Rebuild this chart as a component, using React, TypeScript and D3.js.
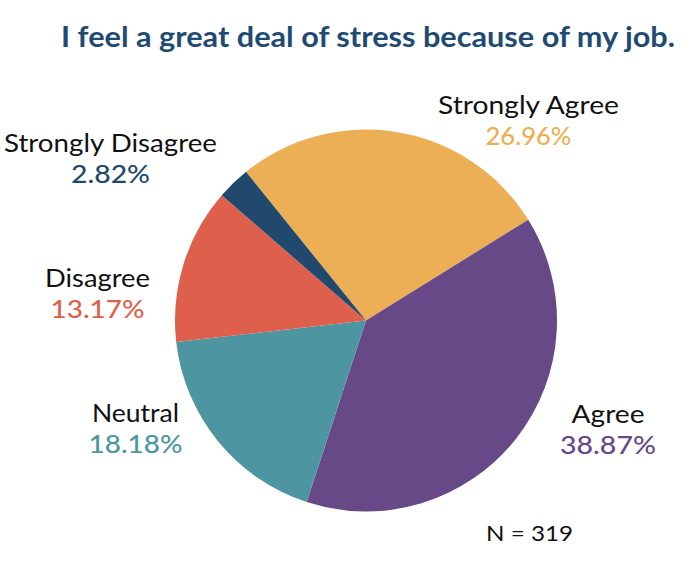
import React from "react";
import * as d3 from "d3";

const categories = ["Strongly Agree", "Agree", "Neutral", "Disagree", "Strongly Disagree"];
const percents = [26.96, 38.87, 18.18, 13.17, 2.82];
const colors = ["#EDAF55", "#664986", "#4D95A0", "#DE604C", "#21496E"];
const title = "I feel a great deal of stress because of my job.";
const nLabel = "N = 319";

// label layout (centre x, baseline y of name, widths)
const labelLayout = [
  { x: 528.5, y: 114, wName: 181, wPct: 86 },
  { x: 608, y: 423, wName: 73, wPct: 96 },
  { x: 135.5, y: 422, wName: 87, wPct: 94 },
  { x: 97.5, y: 287, wName: 105, wPct: 94 },
  { x: 110.5, y: 152, wName: 213, wPct: 79 },
];

const W = 690;
const H = 578;
const cx = 366;
const cy = 320.5;
const R = 191;
const startDeg = -38.9;

export default function App() {
  const pie = d3
    .pie<number>()
    .sort(null)
    .value((d) => d)
    .startAngle((startDeg * Math.PI) / 180)
    .endAngle((startDeg * Math.PI) / 180 + 2 * Math.PI);
  const arcs = pie(percents);
  const arc = d3.arc<d3.PieArcDatum<number>>().innerRadius(0).outerRadius(R);
  const font = "Lato, 'Open Sans', sans-serif";

  return (
    <svg
      width={W}
      height={H}
      style={{ position: "absolute", left: 0, top: 0, background: "#fff" }}
      fontFamily={font}
    >
      <text
        x={61}
        y={47}
        fontSize={29}
        fontWeight={700}
        fill="#1F4B73"
        textLength={614}
        lengthAdjust="spacingAndGlyphs"
      >
        {title}
      </text>
      <g transform={`translate(${cx},${cy})`}>
        {arcs.map((a, i) => (
          <path key={categories[i]} d={arc(a) || ""} fill={colors[i]} />
        ))}
      </g>
      {categories.map((c, i) => {
        const l = labelLayout[i];
        return (
          <g key={c}>
            <text
              x={l.x}
              y={l.y}
              fontSize={25}
              textAnchor="middle"
              fill="#111"
              textLength={l.wName}
              lengthAdjust="spacingAndGlyphs"
            >
              {c}
            </text>
            <text
              x={l.x}
              y={l.y + 31}
              fontSize={25}
              textAnchor="middle"
              fill={colors[i]}
              fontWeight={500}
              textLength={l.wPct}
              lengthAdjust="spacingAndGlyphs"
            >
              {`${percents[i].toFixed(2)}%`}
            </text>
          </g>
        );
      })}
      <text
        x={486}
        y={541}
        fontSize={22}
        fill="#111"
        textLength={87}
        lengthAdjust="spacingAndGlyphs"
      >
        {nLabel}
      </text>
    </svg>
  );
}
